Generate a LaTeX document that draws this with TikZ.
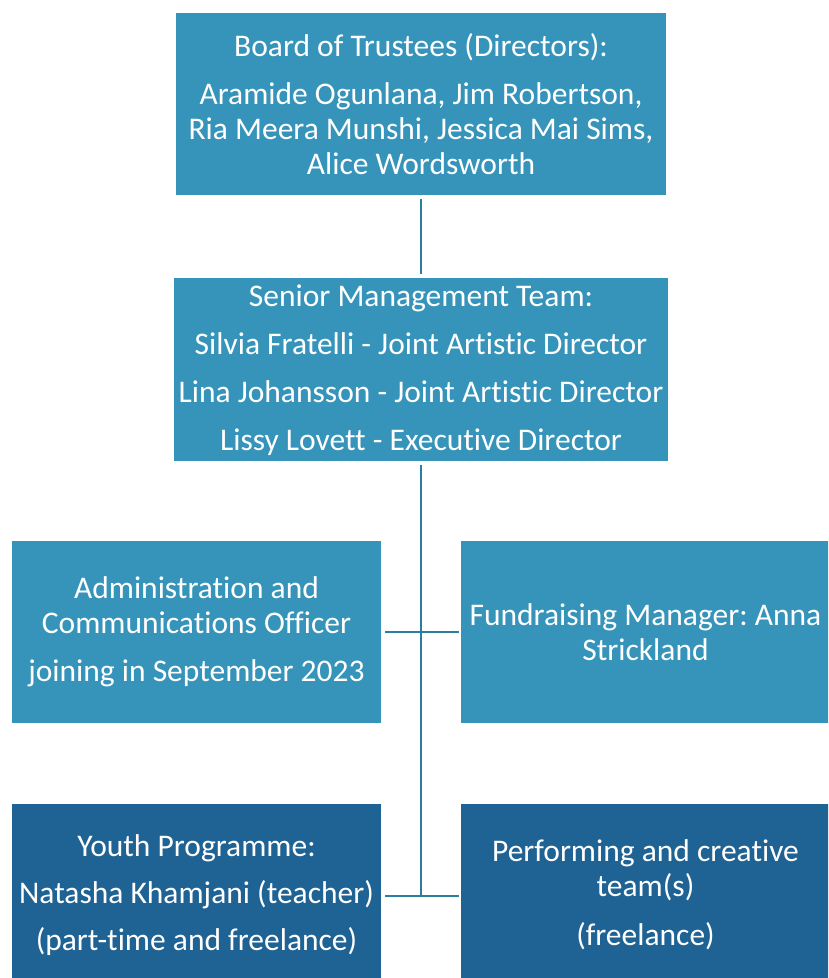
\documentclass[tikz,border=0pt]{standalone}
\usepackage{fontspec}
\setmainfont{Carlito}[Ligatures=NoCommon]
\frenchspacing
\definecolor{boxlight}{RGB}{54,148,186}
\definecolor{boxdark}{RGB}{31,98,148}
\definecolor{linkcol}{RGB}{42,126,160}
\begin{document}
\begin{tikzpicture}[x=1pt,y=1pt,
  orgbox/.style={rectangle, fill=boxlight, draw=none, text=white, align=center, inner sep=0pt,
    font=\fontsize{31.5}{35}\selectfont},
  darkbox/.style={orgbox, fill=boxdark},
  link/.style={draw=linkcol, line width=2.6pt}]
\useasboundingbox (0,0) rectangle (828,978);
\clip (0,0) rectangle (828,978);
\node[orgbox, minimum width=490, minimum height=182] (board) at (421,874)
  {Board of Trustees (Directors):\\[13pt]Aramide Ogunlana, Jim Robertson,\\Ria Meera Munshi, Jessica Mai Sims,\\Alice Wordsworth};
\node[orgbox, minimum width=494, minimum height=183] (smt) at (421,608)
  {Senior Management Team:\\[13pt]Silvia Fratelli - Joint Artistic Director\\[13pt]Lina Johansson - Joint Artistic Director\\[13pt]Lissy Lovett - Executive Director};
\node[orgbox, minimum width=369, minimum height=182] (admin) at (196.5,346)
  {Administration and\\Communications Officer\\[13pt]joining in September 2023};
\node[orgbox, minimum width=369, minimum height=182] (fund) at (645.5,346)
  {Fundraising Manager: Anna\\Strickland};
\node[darkbox, minimum width=369, minimum height=182] (youth) at (196.5,83)
  {Youth Programme:\\[12pt]Natasha Khamjani (teacher)\\[12pt](part-time and freelance)};
\node[darkbox, minimum width=369, minimum height=182] (perf) at (645.5,83)
  {Performing and creative\\team(s)\\[14pt](freelance)};
\coordinate (j1) at (421,346);
\coordinate (j2) at (421,82);
\draw[link, shorten <=4pt, shorten >=4pt] (board.south) -- (smt.north);
\draw[link, shorten <=3pt] (smt.south) -- (j2);
\draw[link, shorten <=4pt, shorten >=2pt] (admin.east) -- (fund.west);
\draw[link, shorten <=4pt, shorten >=2pt] (youth.east |- j2) -- (perf.west |- j2);
\end{tikzpicture}
\end{document}
